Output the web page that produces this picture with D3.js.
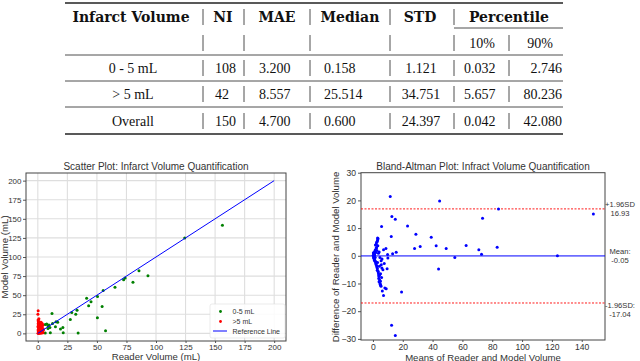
<!DOCTYPE html>
<html lang="en">
<head>
    <meta charset="UTF-8">
    <title>Infarct volume</title>
    <script type="text/javascript" src="https://cdn.jsdelivr.net/npm/d3@7/dist/d3.min.js"></script>
    <style type="text/css">
        body { margin: 0; background: #fff; }
        .tbl { font-family: "Liberation Serif", serif; font-size: 14px; fill: #111; }
        .hdr { font-family: "DejaVu Serif", serif; font-weight: bold; font-size: 14px; fill: #111; }
        .plot text { font-family: "Liberation Sans", Arial, sans-serif; fill: #333; }
    </style>
</head>
<body>
    <script type="text/javascript">
        var w = 640;
        var h = 361;

        // table data
        var headers = ["Infarct Volume", "NI", "MAE", "Median", "STD", "Percentile"];
        var subHeaders = ["10%", "90%"];
        var rowLabels = ["0 - 5 mL", "> 5 mL", "Overall"];
        var colNI = ["108", "42", "150"];
        var colMAE = ["3.200", "8.557", "4.700"];
        var colMedian = ["0.158", "25.514", "0.600"];
        var colSTD = ["1.121", "34.751", "24.397"];
        var colP10 = ["0.032", "5.657", "0.042"];
        var colP90 = ["2.746", "80.236", "42.080"];

        // scatter plot data (reader, model)
        var greenX = [156.2, 124.3, 93.2, 85.6, 80.5, 73.9, 72.6, 65.3, 55.3, 50.5, 41.3, 45, 43, 54.4, 50.4, 57.3, 34.1,
            33.2, 32.1, 28.7, 27.5, 21.5, 21.2, 19.2, 15.4, 14.9, 12, 10.6, 8.6, 6.3, 8.6, 6.3, 4.6, 10.2, 7.5, 9.4, 12.5, 16.8];
        var greenY = [141.5, 124.9, 75.5, 82.1, 66.8, 72.4, 70.3, 60.3, 56, 48.3, 46.1, 41.4, 36.2, 35.3, 20.3, 3.4, 0.4,
            30.2, 25, 27.2, 18.1, 0.9, 7.8, 5.6, 15.1, 8.6, 25.9, 0.9, 9.9, 11.6, 6.5, 0.4, 5.2, 7.6, 12.1, 11, 12.8, 14.4];
        var redX = [0.3, 0.1, 0.2, 0.5, 1.0, 1.5, 2.0, 2.5, 3.0, 3.5, 4.0, 4.4, 0.4, 1.1, 1.8, 2.6, 3.3, 4.1,
            0.2, 0.9, 1.6, 2.3, 3.1, 3.8, 4.5, 0.6, 1.3, 2.1, 2.9, 3.6, 4.3, 0.1, 0.8, 1.5, 2.2, 3.0, 3.7,
            0.5, 1.2, 1.9, 2.7, 3.4, 4.2, 0.3, 1.0, 1.7, 2.4, 3.2, 3.9, 0.7, 1.4, 2.8, 0.4, 1.1, 0.2, 0.9, 0.6];
        var redY = [29.5, 25.1, 0.1, 0.3, 0.2, 0.5, 0.4, 0.8, 0.6, 0.9, 1.2, 0.7, 2.1, 2.6, 2.3, 2.9, 2.4, 2.2,
            4.3, 4.8, 4.5, 4.1, 4.9, 4.6, 4.0, 6.4, 6.9, 6.6, 6.2, 6.8, 6.1, 8.5, 8.9, 8.3, 8.7, 8.6, 8.2,
            10.4, 10.8, 10.6, 10.3, 10.9, 10.5, 12.6, 12.9, 12.4, 12.8, 12.5, 12.7, 14.6, 14.9, 14.4, 15.3, 15.1, 17.5, 19.0, 13.2];
        var refLine = [0, 200];
        var scatterTicks = [0, 25, 50, 75, 100, 125, 150, 175, 200];

        // Bland-Altman data (mean, difference)
        var baX = [11.6, 44.7, 84.2, 147.8, 12.7, 15, 73.5, 5.8, 23.2, 28.8, 39.1, 12.3, 3.1, 42.4, 62.5, 31.7, 27.9,
            49.1, 71, 72.8, 83.3, 54.9, 123.7, 15.6, 13.2, 8.7, 7.1, 10, 9.5, 44, 19.2, 7.1, 6.3, 8, 8.9, 12.5, 15,
            4.9, 6.7, 9.8, 6.1, 7.6,
            0.2, 0.4, 0.6, 0.8, 1.0, 0.3, 0.5, 0.9, 1.2, 1.4, 1.6, 1.8, 1.1, 1.5, 1.9, 2.1, 2.3, 2.5,
            2.2, 2.6, 2.8, 3.0, 3.2, 2.4, 2.9, 3.4, 3.6, 3.3, 3.8, 4.0, 4.2, 3.5, 3.9, 4.4, 4.6, 4.1, 4.8,
            5.0, 5.2, 4.7, 5.4, 5.6, 5.1, 5.5, 2.7, 3.1, 3.7, 1.3, 1.7, 0.7, 2.0, 4.3, 5.8, 6.0, 2.4, 3.0];
        var baY = [21.4, 19.8, 16.9, 15.1, 14.2, 13.2, 13.6, 10.6, 10.8, 7.8, 6.7, 7, 6.4, 3.6, 3.7, 3.4, 2.6,
            2.6, 2.2, 0.6, 3.1, -0.6, 0, 1.3, 0.7, 2.6, 2.2, -0.8, -4.7, -4.8, -13.1, -14.3, -12.7, -11.6, -11.9, -25.1, -28.8,
            -10.4, -5, 0.5, -1.2, -2.8,
            0.2, -0.4, 0.8, -1.0, 0.5, 1.1, -0.8, -1.5, 1.6, -2.0, 2.2, -2.6, 0.3, -0.6, 1.2, -3.1, 3.0, -3.6,
            4.2, -4.0, 5.1, -4.6, 5.8, 2.8, -5.2, 6.2, -6.1, 3.6, -6.8, -7.5, 1.4, -5.6, -8.2, -7.0, -8.8, -9.4, -10.0,
            -9.2, -10.6, -0.6, -11.0, -3.2, -6.5, -1.8, 1.9, -2.4, 0.9, -1.6, 3.9, -0.2, -2.2, -3.8, -7.8, -4.4, 4.8, 5.4];
        var baMean = -0.05;
        var baUpper = 16.93;
        var baLower = -17.04;
        var baXTicks = [0, 20, 40, 60, 80, 100, 120, 140];
        var baYTicks = [-30, -20, -10, 0, 10, 20, 30];

        var svg = d3.select("body")
            .append("svg")
            .attr("width", w)
            .attr("height", h);

        //----- Table -----
        var tb = svg.append("g");
        var tLeft = 65, tRight = 563;
        var rowY = [17, 43, 68, 94, 121];
        var sepX = [203, 244, 310, 390, 454];

        // rules
        [[3, 1.6], [55, 0.8], [81, 0.8], [107, 0.8], [134, 1.6]].forEach(function(r) {
            tb.append("line")
                .attr("x1", tLeft).attr("x2", tRight)
                .attr("y1", r[0]).attr("y2", r[0])
                .attr("stroke", "#222").attr("stroke-width", r[1]);
        });
        tb.append("line")
            .attr("x1", 454).attr("x2", tRight)
            .attr("y1", 28).attr("y2", 28)
            .attr("stroke", "#222").attr("stroke-width", 0.8);

        // vertical bars in each row
        rowY.forEach(function(y, i) {
            var xs = sepX.slice();
            if (i > 0) xs.push(509);
            xs.forEach(function(x) {
                tb.append("line")
                    .attr("x1", x).attr("x2", x)
                    .attr("y1", y - 8).attr("y2", y + 8)
                    .attr("stroke", "#222").attr("stroke-width", 0.8);
            });
        });

        var hdrX = [131, 223, 277, 350, 420, 509];
        tb.selectAll(".hdr")
            .data(headers)
            .enter()
            .append("text")
            .attr("class", "hdr")
            .attr("x", function(d, i) { return hdrX[i]; })
            .attr("y", rowY[0] + 5)
            .attr("text-anchor", "middle")
            .text(function(d) { return d; });

        tb.selectAll(".sub")
            .data(subHeaders)
            .enter()
            .append("text")
            .attr("class", "tbl")
            .attr("x", function(d, i) { return [482, 540][i]; })
            .attr("y", rowY[1] + 5)
            .attr("text-anchor", "middle")
            .text(function(d) { return d; });

        var cols = [
            { v: rowLabels, x: 133, a: "middle" },
            { v: colNI, x: 215, a: "start" },
            { v: colMAE, x: 259, a: "start" },
            { v: colMedian, x: 324, a: "start" },
            { v: colSTD, x: 421, a: "middle" },
            { v: colP10, x: 464, a: "start" },
            { v: colP90, x: 562, a: "end" }
        ];
        cols.forEach(function(c) {
            tb.selectAll(null)
                .data(c.v)
                .enter()
                .append("text")
                .attr("class", "tbl")
                .attr("x", c.x)
                .attr("y", function(d, i) { return rowY[i + 2] + 5; })
                .attr("text-anchor", c.a)
                .text(function(d) { return d; });
        });

        //----- Scatter plot -----
        var sp = svg.append("g").attr("class", "plot");
        var sx = d3.scaleLinear().domain([-10, 210]).range([26, 286]);
        var sy = d3.scaleLinear().domain([-10, 210]).range([341, 173]);

        // grid
        sp.selectAll(".gx")
            .data(scatterTicks)
            .enter()
            .append("line")
            .attr("x1", function(d) { return sx(d); })
            .attr("x2", function(d) { return sx(d); })
            .attr("y1", 173).attr("y2", 341)
            .attr("stroke", "#dedede").attr("stroke-width", 1.1);
        sp.selectAll(".gy")
            .data(scatterTicks)
            .enter()
            .append("line")
            .attr("y1", function(d) { return sy(d); })
            .attr("y2", function(d) { return sy(d); })
            .attr("x1", 26).attr("x2", 286)
            .attr("stroke", "#dedede").attr("stroke-width", 1.1);

        var sxAxis = sp.append("g")
            .attr("transform", "translate(0,341)")
            .call(d3.axisBottom(sx).tickValues(scatterTicks).tickSize(2).tickPadding(1.5));
        var syAxis = sp.append("g")
            .attr("transform", "translate(26,0)")
            .call(d3.axisLeft(sy).tickValues(scatterTicks).tickSize(3).tickPadding(1.5));
        [sxAxis, syAxis].forEach(function(a) {
            a.select(".domain").remove();
            a.selectAll("line").attr("stroke", "#555");
            a.selectAll("text").style("font-size", "8px").attr("fill", "#333");
        });

        sp.append("rect")
            .attr("x", 26).attr("y", 173)
            .attr("width", 260).attr("height", 168)
            .attr("fill", "none").attr("stroke", "#444").attr("stroke-width", 1);

        sp.append("g").selectAll("circle")
            .data(greenX)
            .enter()
            .append("circle")
            .attr("cx", function(d) { return sx(d); })
            .attr("cy", function(d, i) { return sy(greenY[i]); })
            .attr("r", 1.5)
            .attr("fill", "green");

        sp.append("g").selectAll("circle")
            .data(redX)
            .enter()
            .append("circle")
            .attr("cx", function(d) { return sx(d); })
            .attr("cy", function(d, i) { return sy(redY[i]); })
            .attr("r", 1.5)
            .attr("fill", "red");

        sp.append("line")
            .attr("x1", sx(refLine[0])).attr("y1", sy(refLine[0]))
            .attr("x2", sx(refLine[1])).attr("y2", sy(refLine[1]))
            .attr("stroke", "blue").attr("stroke-width", 1);

        // legend
        var lg = sp.append("g");
        lg.append("rect")
            .attr("x", 210).attr("y", 304)
            .attr("width", 75).attr("height", 34)
            .attr("rx", 2)
            .attr("fill", "#fff").attr("fill-opacity", 0.85)
            .attr("stroke", "#ddd").attr("stroke-width", 0.6);
        lg.append("circle").attr("cx", 220.5).attr("cy", 311.5).attr("r", 1.4).attr("fill", "green");
        lg.append("circle").attr("cx", 220.5).attr("cy", 321.5).attr("r", 1.4).attr("fill", "red");
        lg.append("line").attr("x1", 213).attr("x2", 227).attr("y1", 331).attr("y2", 331)
            .attr("stroke", "blue").attr("stroke-width", 1);
        ["0-5 mL", ">5 mL", "Reference Line"].forEach(function(t, i) {
            lg.append("text")
                .attr("x", 232.5).attr("y", 314 + i * 9.8)
                .style("font-size", "7px")
                .text(t);
        });

        sp.append("text")
            .attr("x", 156).attr("y", 169.5)
            .attr("text-anchor", "middle")
            .style("font-size", "10px")
            .text("Scatter Plot: Infarct Volume Quantification");
        sp.append("text")
            .attr("x", 156).attr("y", 359.5)
            .attr("text-anchor", "middle")
            .style("font-size", "9.6px")
            .text("Reader Volume (mL)");
        sp.append("text")
            .attr("transform", "translate(7.5,257) rotate(-90)")
            .attr("text-anchor", "middle")
            .style("font-size", "9.6px")
            .text("Model Volume (mL)");

        //----- Bland-Altman plot -----
        var ba = svg.append("g").attr("class", "plot");
        var bx = d3.scaleLinear().domain([-8, 155.6]).range([361, 605]);
        var by = d3.scaleLinear().domain([-30.4, 30]).range([340, 172.7]);

        var bxAxis = ba.append("g")
            .attr("transform", "translate(0,340)")
            .call(d3.axisBottom(bx).tickValues(baXTicks).tickSize(2).tickPadding(1.5));
        var byAxis = ba.append("g")
            .attr("transform", "translate(361,0)")
            .call(d3.axisLeft(by).tickValues(baYTicks).tickSize(3).tickPadding(2)
                .tickFormat(function(d) { return d < 0 ? "\u2212" + Math.abs(d) : d; }));
        [bxAxis, byAxis].forEach(function(a) {
            a.select(".domain").remove();
            a.selectAll("line").attr("stroke", "#555");
            a.selectAll("text").style("font-size", "8.6px").attr("fill", "#333");
        });

        ba.append("rect")
            .attr("x", 361).attr("y", 172.7)
            .attr("width", 244).attr("height", 167.3)
            .attr("fill", "none").attr("stroke", "#444").attr("stroke-width", 1);

        ba.append("line")
            .attr("x1", 361).attr("x2", 605)
            .attr("y1", by(baMean)).attr("y2", by(baMean))
            .attr("stroke", "blue").attr("stroke-width", 1);
        [baUpper, baLower].forEach(function(v) {
            ba.append("line")
                .attr("x1", 361).attr("x2", 605)
                .attr("y1", by(v)).attr("y2", by(v))
                .attr("stroke", "red").attr("stroke-width", 0.9)
                .attr("stroke-dasharray", "2,1.5");
        });

        ba.append("g").selectAll("circle")
            .data(baX)
            .enter()
            .append("circle")
            .attr("cx", function(d) { return bx(d); })
            .attr("cy", function(d, i) { return by(baY[i]); })
            .attr("r", 1.5)
            .attr("fill", "blue");

        // annotations right of the plot: label, value, offset of first baseline from the line
        var notes = [
            ["+1.96SD", baUpper.toFixed(2), baUpper, -2],
            ["Mean:", baMean.toFixed(2), baMean, -2],
            ["-1.96SD:", baLower.toFixed(2), baLower, 5]
        ];
        notes.forEach(function(n) {
            var y0 = by(n[2]) + n[3];
            ba.append("text")
                .attr("x", 620).attr("y", y0)
                .attr("text-anchor", "middle")
                .style("font-size", "7.6px")
                .text(n[0]);
            ba.append("text")
                .attr("x", 620).attr("y", y0 + 8.8)
                .attr("text-anchor", "middle")
                .style("font-size", "7.6px")
                .text(n[1]);
        });

        ba.append("text")
            .attr("x", 483).attr("y", 169.5)
            .attr("text-anchor", "middle")
            .style("font-size", "10px")
            .text("Bland-Altman Plot: Infract Volume Quantification");
        ba.append("text")
            .attr("x", 483).attr("y", 360.5)
            .attr("text-anchor", "middle")
            .style("font-size", "9.6px")
            .text("Means of Reader and Model Volume");
        ba.append("text")
            .attr("transform", "translate(339,257) rotate(-90)")
            .attr("text-anchor", "middle")
            .style("font-size", "9.6px")
            .text("Difference of Reader and Model Volume");
    </script>
</body>
</html>
